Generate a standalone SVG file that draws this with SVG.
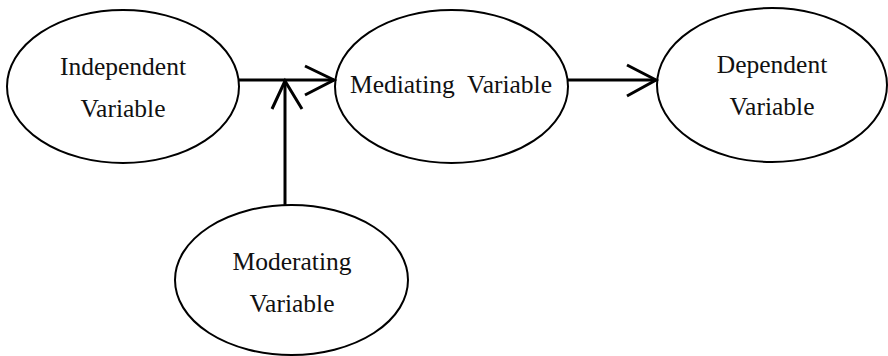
<svg xmlns="http://www.w3.org/2000/svg" width="888" height="356" viewBox="0 0 888 356">
<style>
.node ellipse{fill:#fff;stroke:#000;stroke-width:2}
.node text{font-family:'Liberation Serif','Times New Roman',Times,'DejaVu Serif',serif;font-size:25.5px;fill:#111;text-anchor:middle}
.conn line,.conn polyline{stroke:#000;stroke-width:3;fill:none}
</style>
<rect width="888" height="356" fill="#fff"/>
<g id="independent" class="node">
<ellipse cx="123" cy="86.5" rx="116" ry="76.5"/>
<text x="123" y="75" font-family="Liberation Serif, serif">Independent</text>
<text x="123" y="117" font-family="Liberation Serif, serif">Variable</text>
</g>
<g id="mediating" class="node">
<ellipse cx="451.5" cy="86.5" rx="116.5" ry="76.5"/>
<text x="451" y="93" font-family="Liberation Serif, serif" xml:space="preserve">Mediating  Variable</text>
</g>
<g id="dependent" class="node">
<ellipse cx="772" cy="85" rx="115" ry="77"/>
<text x="772" y="73" font-family="Liberation Serif, serif">Dependent</text>
<text x="772" y="115" font-family="Liberation Serif, serif">Variable</text>
</g>
<g id="moderating" class="node">
<ellipse cx="291.5" cy="280" rx="116.5" ry="75"/>
<text x="292" y="270" font-family="Liberation Serif, serif">Moderating</text>
<text x="292" y="312" font-family="Liberation Serif, serif">Variable</text>
</g>
<g id="connectors" class="conn">
<line x1="239" y1="80" x2="334" y2="80"/>
<polyline points="305,66 334,80 305,95"/>
<line x1="285" y1="205" x2="285" y2="81"/>
<polyline points="272,109 285,81 302,109"/>
<line x1="568" y1="80" x2="656" y2="80"/>
<polyline points="627,65 656,80 627,96"/>
</g>
</svg>
